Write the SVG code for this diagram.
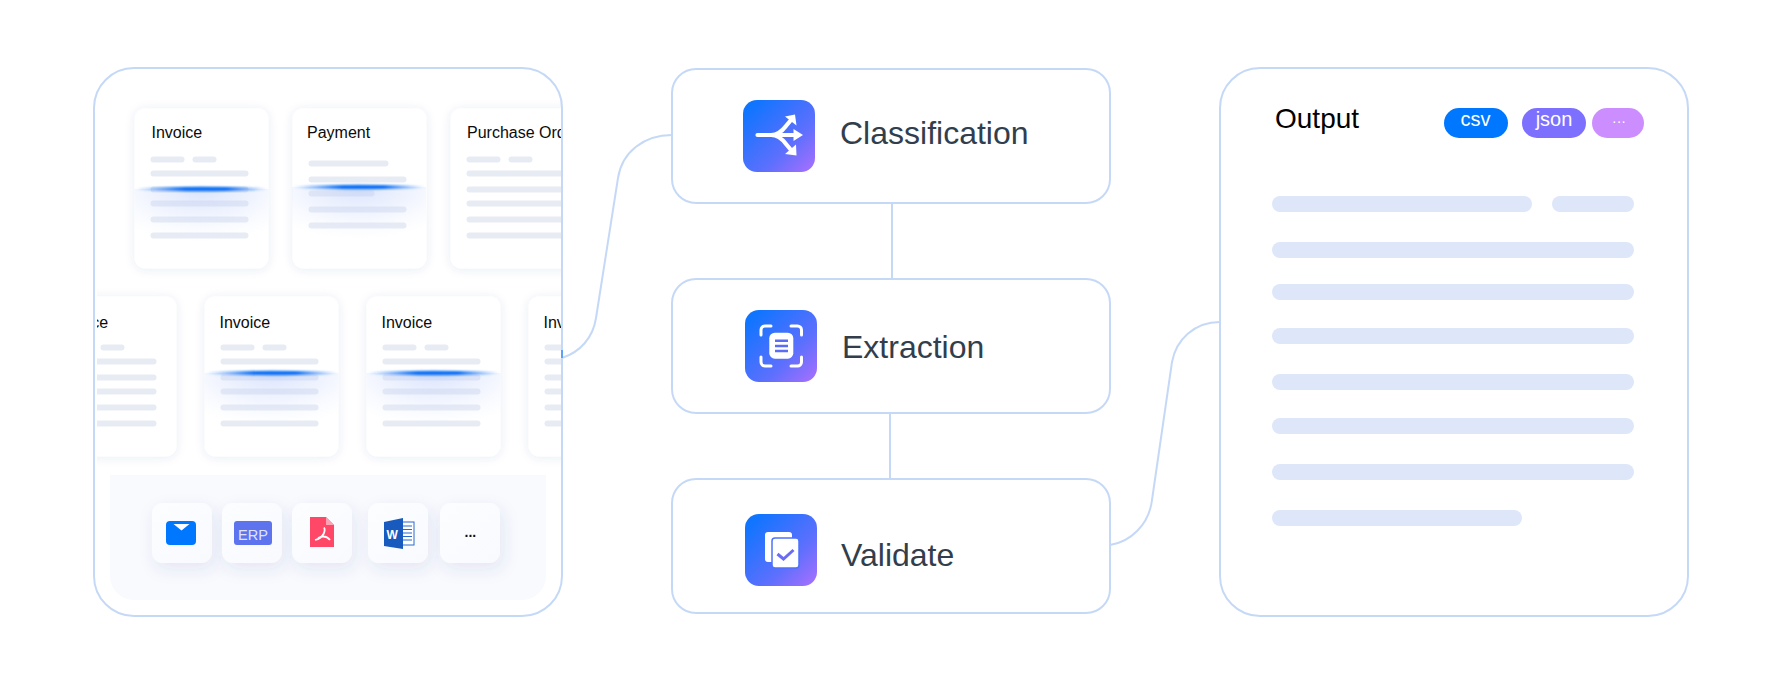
<svg xmlns="http://www.w3.org/2000/svg" xmlns:xlink="http://www.w3.org/1999/xlink" width="1782" height="686" viewBox="0 0 1782 686">
<style>
text{font-family:"Liberation Sans",Arial,sans-serif}
.panel{fill:#fff;stroke:#c5d9f7;stroke-width:2}
.conn{fill:none;stroke:#c5d9f7;stroke-width:2}
.card{fill:#fff;filter:url(#cardShadow)}
.cb{fill:#e7ebf4}
.ct{font-size:16px;fill:#0b0b0b}
.lbl{font-size:32px;fill:#323e4c}
.ob{fill:#dde7f9}
.tile{fill:url(#tileGrad);filter:url(#tileShadow)}
.pt{fill:#fff;text-anchor:middle}
.ico{fill:url(#iconGrad)}
</style>
<defs>
<linearGradient id="iconGrad" x1="0.1" y1="0.1" x2="1" y2="1"><stop offset="0" stop-color="#0f75ff"/><stop offset="0.6" stop-color="#5e6ffd"/><stop offset="1" stop-color="#ab6fff"/></linearGradient>
<linearGradient id="tileGrad" x1="0" y1="0" x2="1" y2="1"><stop offset="0" stop-color="#fcfdff"/><stop offset="1" stop-color="#f9fafe"/></linearGradient>
<linearGradient id="scanLine" x1="0" x2="1" y1="0" y2="0"><stop offset="0" stop-color="#1a78f7" stop-opacity="0"/><stop offset="0.12" stop-color="#1a78f7" stop-opacity=".35"/><stop offset="0.38" stop-color="#0a6ff5"/><stop offset="0.68" stop-color="#0a6ff5"/><stop offset="0.9" stop-color="#1a78f7" stop-opacity=".35"/><stop offset="1" stop-color="#1a78f7" stop-opacity="0"/></linearGradient>
<radialGradient id="scanGlow" cx="0.5" cy="0" r="0.8"><stop offset="0" stop-color="#b4c8fb" stop-opacity=".5"/><stop offset="0.5" stop-color="#c8d6fb" stop-opacity=".28"/><stop offset="1" stop-color="#e3ebfd" stop-opacity="0"/></radialGradient>
<filter id="cardShadow" x="-20%" y="-20%" width="140%" height="140%"><feDropShadow dx="0" dy="1" stdDeviation="5" flood-color="#3c5096" flood-opacity=".1"/></filter>
<filter id="tileShadow" x="-50%" y="-50%" width="200%" height="200%"><feDropShadow dx="3" dy="6" stdDeviation="8" flood-color="#3c5096" flood-opacity=".11"/></filter>
<filter id="soft" x="-5%" y="-300%" width="110%" height="700%"><feGaussianBlur stdDeviation="0.9"/></filter>
<clipPath id="panelClip"><rect x="97" y="69" width="464" height="400"/></clipPath>
<g id="cardBars">
<rect class="card" width="134" height="160" rx="11"/>
<rect class="cb" x="16" y="48" width="34" height="6" rx="3"/><rect class="cb" x="58" y="48" width="24" height="6" rx="3"/>
<rect class="cb" x="16" y="62" width="98" height="6" rx="3"/><rect class="cb" x="16" y="78" width="98" height="6" rx="3"/>
<rect class="cb" x="16" y="92" width="98" height="6" rx="3"/><rect class="cb" x="16" y="108" width="98" height="6" rx="3"/>
<rect class="cb" x="16" y="124" width="98" height="6" rx="3"/>
</g>
<g id="scan">
<rect x="0" y="0" width="134" height="66" fill="url(#scanGlow)"/>
<ellipse cx="67" cy="0" rx="67" ry="2.2" fill="url(#scanLine)" filter="url(#soft)"/>
</g>
</defs>
<rect width="1782" height="686" fill="#fff"/>

<g id="connectors">
<path class="conn" d="M562 358C580 352 593 338 596 318L618 178C622 152 644 135 672 135"/>
<path class="conn" d="M892 203V279"/>
<path class="conn" d="M890 413V479"/>
<path class="conn" d="M1110 545C1130 542 1149 525 1152 500L1172 362C1176 340 1194 322 1220 322"/>
</g>

<g id="sources">
<rect class="panel" x="94" y="68" width="468" height="548" rx="40"/>
<path d="M110 475H546V576a24 24 0 0 1-24 24H134a24 24 0 0 1-24-24Z" fill="#f9fafe"/>
<g clip-path="url(#panelClip)">
<g id="doc-invoice-1"><use href="#cardBars" x="134.500" y="108.500"/><text class="ct" x="151.500" y="138">Invoice</text><use href="#scan" x="134.500" y="189"/></g>
<g id="doc-payment">
<rect class="card" x="292.500" y="108.500" width="134" height="160" rx="11"/>
<rect class="cb" x="308.500" y="160.500" width="80" height="6" rx="3"/><rect class="cb" x="308.500" y="176.500" width="98" height="6" rx="3"/><rect class="cb" x="308.500" y="190.500" width="66" height="6" rx="3"/><rect class="cb" x="308.500" y="206.500" width="98" height="6" rx="3"/><rect class="cb" x="308.500" y="222.500" width="98" height="6" rx="3"/>
<text class="ct" x="307" y="138">Payment</text><use href="#scan" x="292" y="187"/></g>
<g id="doc-purchase"><use href="#cardBars" x="450.500" y="108.500"/><text class="ct" x="467" y="138">Purchase Order</text></g>
<g id="doc-invoice-2"><use href="#cardBars" x="42.500" y="296.500"/><text class="ct" x="57.500" y="328">Invoice</text></g>
<g id="doc-invoice-3"><use href="#cardBars" x="204.500" y="296.500"/><text class="ct" x="219.500" y="328">Invoice</text><use href="#scan" x="204.500" y="373"/></g>
<g id="doc-invoice-4"><use href="#cardBars" x="366.500" y="296.500"/><text class="ct" x="381.500" y="328">Invoice</text><use href="#scan" x="366.500" y="373"/></g>
<g id="doc-invoice-5"><use href="#cardBars" x="528.500" y="296.500"/><text class="ct" x="543.500" y="328">Invoice</text></g>
</g>
<rect x="561" y="350" width="2" height="8" fill="#5ca0f8"/>
<g id="src-mail"><rect class="tile" x="152" y="503" width="60" height="60" rx="11"/><rect x="166" y="521" width="30" height="24" rx="4" fill="#0077ff"/><path d="M173.500 524H189.500L181.500 530.500Z" fill="#fff"/></g>
<g id="src-erp"><rect class="tile" x="222" y="503" width="60" height="60" rx="11"/><rect x="234" y="521" width="38" height="24" rx="3" fill="#5e74ee"/><text x="238" y="540" font-size="14.500" fill="#dfe5ff">ERP</text></g>
<g id="src-pdf"><rect class="tile" x="292" y="503" width="60" height="60" rx="11"/><path d="M310 517H326L334 525V547H310Z" fill="#ff4868"/><path d="M326 517L334 525H326Z" fill="#ffa3b4"/><path d="M315 540C319 539 322 537 323.500 534C325 531 325 529 324 527.500M318 538C322 536 326 535 330 540" fill="none" stroke="#fff" stroke-width="1.800"/></g>
<g id="src-word"><rect class="tile" x="368" y="503" width="60" height="60" rx="11"/><rect x="402" y="522" width="12" height="23" fill="#fff" stroke="#2a6bd0" stroke-width="1"/><path d="M402 526H412M402 529.500H412M402 533H412M402 536.500H412M402 540H412" stroke="#2a6bd0" stroke-width="1.200"/><path d="M384 522L403 518V549L384 546Z" fill="#185abd"/><text x="386.500" y="539" font-size="12" font-weight="700" fill="#fff">W</text></g>
<g id="src-more"><rect class="tile" x="440" y="503" width="60" height="60" rx="11"/><text x="464.500" y="537" font-size="14" font-weight="700" fill="#111">...</text></g>
</g>

<g id="classification">
<rect class="panel" x="672" y="69" width="438" height="134" rx="24"/>
<rect class="ico" x="743" y="100" width="72" height="72" rx="14"/>
<path d="M757.500 135H771C779 135 783 130 786 126L791 120M771 135C779 135 783 140 786 144L791 150M778 135H796" fill="none" stroke="#fff" stroke-width="4.200" stroke-linecap="round"/>
<path d="M785 116.500L795 114.500L796.500 125.500ZM793.500 129L803 135L793.500 141ZM785 154L796.500 155.500L796 144.500Z" fill="#fff"/>
<text class="lbl" x="840" y="144">Classification</text>
</g>
<g id="extraction">
<rect class="panel" x="672" y="279" width="438" height="134" rx="24"/>
<rect class="ico" x="745" y="310" width="72" height="72" rx="14"/>
<path d="M771 326H765A4 4 0 0 0 761 330V335M791 326H797.500A4 4 0 0 1 801.500 330V335M761 357V362A4 4 0 0 0 765 366H771M801.500 357V362A4 4 0 0 1 797.500 366H791" fill="none" stroke="#fff" stroke-width="3" stroke-linecap="round"/>
<rect x="769.300" y="332.700" width="24" height="26" rx="5.500" fill="#fff"/>
<path d="M775 340.700H788M775 346H788M775 351H788" stroke="#5b6cf5" stroke-width="2.500"/>
<text class="lbl" x="842" y="358">Extraction</text>
</g>
<g id="validate">
<rect class="panel" x="672" y="479" width="438" height="134" rx="24"/>
<rect class="ico" x="745" y="514" width="72" height="72" rx="14"/>
<rect x="765" y="532" width="27" height="30" rx="3" fill="#fff"/>
<rect x="772" y="538" width="27" height="30" rx="3" fill="#fff" stroke="#4f72fb" stroke-width="1.500"/>
<path d="M777.500 554L783.500 559L793.500 550" fill="none" stroke="#6a6cf6" stroke-width="3"/>
<text class="lbl" x="841" y="566">Validate</text>
</g>

<g id="output">
<rect class="panel" x="1220" y="68" width="468" height="548" rx="40"/>
<text x="1275" y="128" font-size="28" fill="#000">Output</text>
<rect x="1444" y="108" width="64" height="30" rx="15" fill="#0077ff"/><text class="pt" x="1475.500" y="126" font-size="20">csv</text>
<rect x="1522" y="108" width="64" height="30" rx="15" fill="#7d70ff"/><text class="pt" x="1554" y="126" font-size="20">json</text>
<rect x="1592" y="108" width="52" height="30" rx="15" fill="#cc8eff"/><text class="pt" x="1619" y="126" font-size="14">···</text>
<rect class="ob" x="1272" y="196" width="260" height="16" rx="8"/><rect class="ob" x="1552" y="196" width="82" height="16" rx="8"/>
<rect class="ob" x="1272" y="242" width="362" height="16" rx="8"/>
<rect class="ob" x="1272" y="284" width="362" height="16" rx="8"/>
<rect class="ob" x="1272" y="328" width="362" height="16" rx="8"/>
<rect class="ob" x="1272" y="374" width="362" height="16" rx="8"/>
<rect class="ob" x="1272" y="418" width="362" height="16" rx="8"/>
<rect class="ob" x="1272" y="464" width="362" height="16" rx="8"/>
<rect class="ob" x="1272" y="510" width="250" height="16" rx="8"/>
</g>
</svg>
